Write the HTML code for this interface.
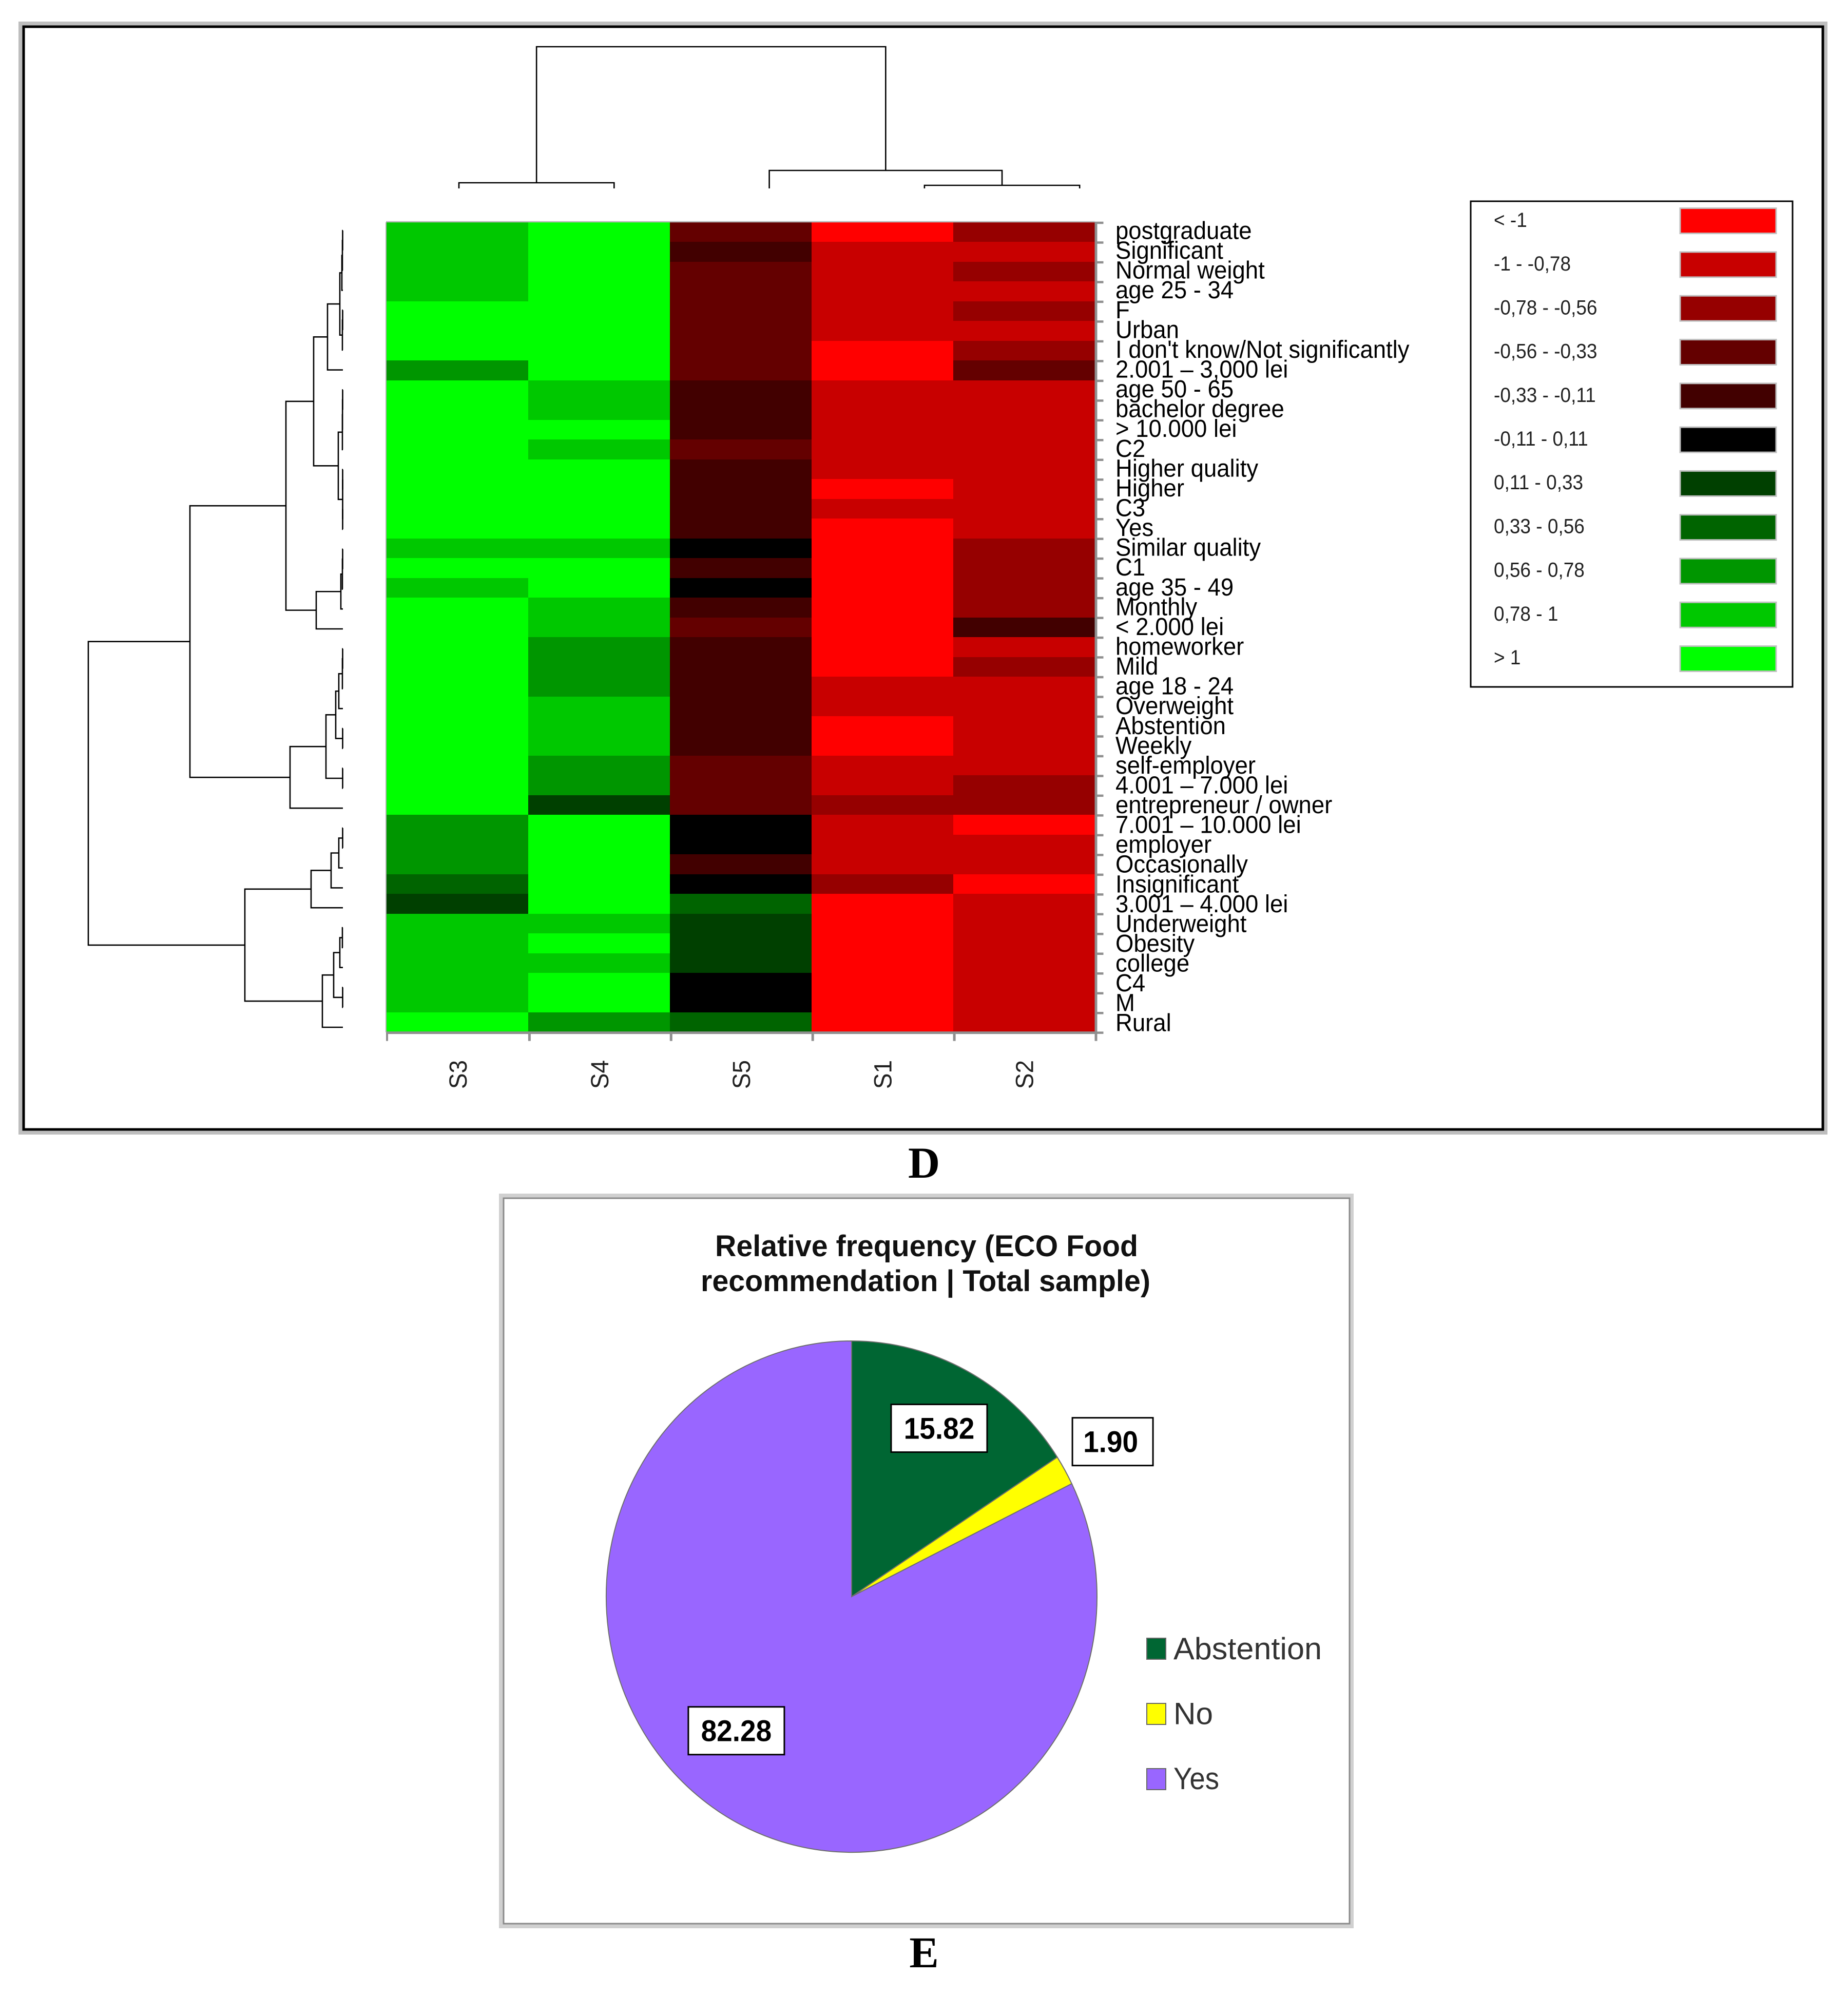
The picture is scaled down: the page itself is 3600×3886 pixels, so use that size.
<!DOCTYPE html>
<html lang="en">
<head>
<meta charset="utf-8">
<title>Heatmap and pie chart</title>
<style>
html,body{margin:0;padding:0;background:#fff;}
svg{display:block;}
text{font-family:"Liberation Sans",sans-serif;}
</style>
</head>
<body>
<svg id="fig" xmlns="http://www.w3.org/2000/svg" width="3600" height="3886" viewBox="0 0 3600 3886">
  <rect x="0" y="0" width="3600" height="3886" fill="#fff"/>
  <rect x="40" y="46" width="3516" height="2160" fill="none" stroke="#bebebe" stroke-width="8"/>
  <rect x="46" y="52" width="3505" height="2148" fill="none" stroke="#000" stroke-width="5"/>
  <g id="row-dendrogram"></g>
  <g id="col-dendrogram"></g>
  <g id="heatmap" shape-rendering="crispEdges"></g>
  <g id="heat-axes"></g>
  <g id="heat-legend">
    <rect x="2865" y="392" width="627" height="946" fill="#fff" stroke="#000" stroke-width="3"/>
  </g>
  <text x="1800" y="2294" text-anchor="middle" font-size="86" font-weight="700" style="font-family:'Liberation Serif',serif">D</text>

  <rect x="976" y="2329" width="1657" height="1423" fill="none" stroke="#d0d0d0" stroke-width="8"/>
  <rect x="981" y="2334" width="1648" height="1413" fill="#fff" stroke="#8a8a8a" stroke-width="3"/>
  <text x="1393" y="2447" font-size="58" font-weight="700" textLength="824" lengthAdjust="spacingAndGlyphs" fill="#111">Relative frequency (ECO Food</text>
  <text x="1365" y="2515" font-size="58" font-weight="700" textLength="876" lengthAdjust="spacingAndGlyphs" fill="#111">recommendation | Total sample)</text>
  <g id="pie"></g>
  <g id="pie-legend"></g>
  <text x="1800" y="3832" text-anchor="middle" font-size="86" font-weight="700" style="font-family:'Liberation Serif',serif">E</text>
</svg>
<script>
const rowLabels = ["postgraduate","Significant","Normal weight","age 25 - 34","F","Urban","I don't know/Not significantly","2.001 – 3,000 lei","age 50 - 65","bachelor degree","> 10.000 lei","C2","Higher quality","Higher","C3","Yes","Similar quality","C1","age 35 - 49","Monthly","< 2.000 lei","homeworker","Mild","age 18 - 24","Overweight","Abstention","Weekly","self-employer","4.001 – 7.000 lei","entrepreneur / owner","7.001 – 10.000 lei","employer","Occasionally","Insignificant","3.001 – 4.000 lei","Underweight","Obesity","college","C4","M","Rural"];
const columnLabels = ["S3","S4","S5","S1","S2"];
const valuesS3 = [.89,.89,.89,.89,1.2,1.2,1.2,.67,1.2,1.2,1.2,1.2,1.2,1.2,1.2,1.2,.89,1.2,.89,1.2,1.2,1.2,1.2,1.2,1.2,1.2,1.2,1.2,1.2,1.2,.67,.67,.67,.44,.22,.89,.89,.89,.89,.89,1.2];
const valuesS4 = [1.2,1.2,1.2,1.2,1.2,1.2,1.2,1.2,.89,.89,1.2,.89,1.2,1.2,1.2,1.2,.89,1.2,1.2,.89,.89,.67,.67,.67,.89,.89,.89,.67,.67,.22,1.2,1.2,1.2,1.2,1.2,.89,1.2,.89,1.2,1.2,.67];
const valuesS5 = [-.44,-.22,-.44,-.44,-.44,-.44,-.44,-.44,-.22,-.22,-.22,-.44,-.22,-.22,-.22,-.22,0,-.22,0,-.22,-.44,-.22,-.22,-.22,-.22,-.22,-.22,-.44,-.44,-.44,0,0,-.22,0,.44,.22,.22,.22,0,0,.44];
const valuesS1 = [-1.2,-.89,-.89,-.89,-.89,-.89,-1.2,-1.2,-.89,-.89,-.89,-.89,-.89,-1.2,-.89,-1.2,-1.2,-1.2,-1.2,-1.2,-1.2,-1.2,-1.2,-.89,-.89,-1.2,-1.2,-.89,-.89,-.67,-.89,-.89,-.89,-.67,-1.2,-1.2,-1.2,-1.2,-1.2,-1.2,-1.2];
const valuesS2 = [-.67,-.89,-.67,-.89,-.67,-.89,-.67,-.44,-.89,-.89,-.89,-.89,-.89,-.89,-.89,-.89,-.67,-.67,-.67,-.67,-.22,-.89,-.67,-.89,-.89,-.89,-.89,-.89,-.67,-.67,-1.2,-.89,-.89,-1.2,-.89,-.89,-.89,-.89,-.89,-.89,-.89];
const binLabels = ["< -1","-1 - -0,78","-0,78 - -0,56","-0,56 - -0,33","-0,33 - -0,11","-0,11 - 0,11","0,11 - 0,33","0,33 - 0,56","0,56 - 0,78","0,78 - 1","> 1"];
const binUpperBounds = [-1,-.78,-.56,-.33,-.11,.11,.33,.56,.78,1,Infinity];
const binColors = ["#ff0000","#c80000","#960000","#640000","#420000","#000000","#004000","#006400","#009600","#00c800","#00ff00"];
/* Dendrogram merges: [distance, childA, childB]; a number child is a 1-based row / column index. */
const rowMerges = [4.96,
  [2.98,
    [1.11,
      [.57,
        [.30,[.06,[.02,[.01,[.005,1,2],3],4],[.01,[.005,5,6],7]],8],
        [.09,[.01,[.008,[.005,9,10],11],12],[.005,[.005,13,14],[.005,15,16]]]],
      [.52,[.04,[.01,[.005,17,18],19],20],21]],
    [1.03,[.33,[.14,[.08,[.01,[.005,22,23],24],25],[.005,26,27]],[.005,28,29]],30]],
  [1.91,
    [.62,[.23,[.08,[.005,31,32],33],34],35],
    [.40,[.18,[.06,[.01,36,37],38],[.005,39,40]],41]]];
const columnMerges = [2.76,[.11,1,2],[.35,3,[.06,4,5]]];
const pieCategories = ["Abstention","No","Yes"];
const pieValues = [15.82,1.90,82.28];
const pieColors = ["#006633","#ffff00","#9966ff"];

const NS = "http://www.w3.org/2000/svg";
function el(tag, attrs, parent){
  const n = document.createElementNS(NS, tag);
  for (const k in attrs) n.setAttribute(k, attrs[k]);
  parent.appendChild(n);
  return n;
}
const $ = id => document.getElementById(id);

/* heatmap scales */
const heatLeft = 753, heatTop = 433, colBand = 275.9, rowBand = 38.48;
const xCol = i => heatLeft + i * colBand;
const yRow = i => heatTop + i * rowBand;
const binIndex = v => binUpperBounds.findIndex(b => v < b);
const colorOf = v => binColors[binIndex(v)];

const series = [valuesS3, valuesS4, valuesS5, valuesS1, valuesS2];
series.forEach((vals, c) => {
  vals.forEach((v, r) => {
    const y0 = Math.round(yRow(r)), y1 = Math.round(yRow(r + 1));
    const x0 = Math.round(xCol(c)), x1 = Math.round(xCol(c + 1));
    const cell = el("rect", {x: x0, y: y0, width: x1 - x0, height: y1 - y0, fill: colorOf(v)}, $("heatmap"));
    
    
  });
});

/* axes */
const axisColor = "#8f8f8f";
const heatRight = xCol(columnLabels.length), heatBottom = yRow(rowLabels.length);
const topLine = el("line", {x1: heatLeft - 1, x2: heatRight, y1: heatTop - 1, y2: heatTop - 1, stroke: "#b8b8b8", "stroke-width": 2.5}, $("heat-axes"));


const leftLine = el("line", {x1: heatLeft - 1, x2: heatLeft - 1, y1: heatTop, y2: heatBottom, stroke: "#b0b0b0", "stroke-width": 2}, $("heat-axes"));


const rightAxis = el("line", {x1: heatRight + 2.5, x2: heatRight + 2.5, y1: heatTop - 1, y2: heatBottom + 3.5, stroke: axisColor, "stroke-width": 5}, $("heat-axes"));


const bottomAxis = el("line", {x1: heatLeft, x2: heatRight + 5, y1: heatBottom + 1, y2: heatBottom + 1, stroke: axisColor, "stroke-width": 5}, $("heat-axes"));



for (let r = 0; r <= rowLabels.length; r++) {
  const tick = el("line", {x1: heatRight, x2: heatRight + 17, y1: yRow(r) + 1, y2: yRow(r) + 1, stroke: axisColor, "stroke-width": 4.5}, $("heat-axes"));
  
  
}
rowLabels.forEach((label, r) => {
  const t = el("text", {x: 0, y: 0, "font-size": 45.5, fill: "#000", transform: "translate(2173," + (465.5 + r * 38.57) + ") scale(1,1.05)"}, $("heat-axes"));
  t.textContent = label;
  
  
});
for (let c = 0; c <= columnLabels.length; c++) {
  const tx = xCol(c) + (c ? 2.5 : 1);
  const tick = el("line", {x1: tx, x2: tx, y1: heatBottom, y2: heatBottom + 17, stroke: axisColor, "stroke-width": c ? 5 : 4}, $("heat-axes"));
  
  
}
columnLabels.forEach((label, c) => {
  const cx = xCol(c) + colBand / 2 + 1;
  const t = el("text", {x: 0, y: 0, "font-size": 46, fill: "#222", "text-anchor": "middle", transform: "translate(" + (cx + 17) + ",2093) rotate(-90) scale(1,1.05)"}, $("heat-axes"));
  t.textContent = label;
  
  
});

/* dendrograms */
function drawDendro(node, leafPos, heightPos, horizontal, parent, name){
  /* returns the leaf-axis position of the node */
  if (typeof node === "number") return leafPos(node);
  const a = drawDendro(node[1], leafPos, heightPos, horizontal, parent, name);
  const b = drawDendro(node[2], leafPos, heightPos, horizontal, parent, name);
  const hA = typeof node[1] === "number" ? 0 : node[1][0];
  const hB = typeof node[2] === "number" ? 0 : node[2][0];
  const h = heightPos(node[0]), pA = heightPos(hA), pB = heightPos(hB);
  const d = horizontal
    ? "M" + pA + " " + a + "H" + h + "V" + b + "H" + pB
    : "M" + a + " " + pA + "V" + h + "H" + b + "V" + pB;
  const p = el("path", {d: d, fill: "none", stroke: "#000", "stroke-width": 2.6}, parent);
  
  
  return (a + b) / 2;
}
drawDendro(rowMerges, r => 449 + (r - 1) * 38.8, h => 668 - h * 100, true, $("row-dendrogram"), "row-dendrogram-branch");
drawDendro(columnMerges, c => 894 + (c - 1) * 302.3, h => 367 - h * 100, false, $("col-dendrogram"), "column-dendrogram-branch");

/* heatmap legend */
binLabels.forEach((label, i) => {
  const y = 405.6 + i * 85.3;
  const sw = el("rect", {x: 3273, y: y, width: 187, height: 49, fill: binColors[i], stroke: "#c0c0c0", "stroke-width": 3}, $("heat-legend"));
  
  
  const t = el("text", {x: 0, y: 0, "font-size": 37, fill: "#222", transform: "translate(2910," + (442 + i * 85.2) + ") scale(1,1.08)"}, $("heat-legend"));
  t.textContent = label;
  
  
});

/* pie */
const pieCx = 1659, pieCy = 3110, pieRx = 478, pieRy = 498;
const pieTotal = pieValues.reduce((s, v) => s + v, 0);
const piePoint = (frac, k) => [pieCx + k * pieRx * Math.sin(frac * 2 * Math.PI), pieCy - k * pieRy * Math.cos(frac * 2 * Math.PI)];
const labelRadius = [.748, 1.224, .705];
const labelShift = [0, 0, .0275];
let cum = 0;
const pieRanges = pieValues.map(v => { const s = cum / pieTotal; cum += v; return [s, cum / pieTotal]; });
pieValues.forEach((v, i) => {
  const [s, e] = pieRanges[i];
  const p0 = piePoint(s, 1), p1 = piePoint(e, 1);
  const big = e - s > .5 ? 1 : 0;
  const slice = el("path", {d: "M" + pieCx + " " + pieCy + "L" + p0[0] + " " + p0[1] + "A" + pieRx + " " + pieRy + " 0 " + big + " 1 " + p1[0] + " " + p1[1] + "Z", fill: pieColors[i], stroke: "#6e6e6e", "stroke-width": 2}, $("pie"));
  
  
});
pieValues.forEach((v, i) => {
  const [s, e] = pieRanges[i];
  const c = piePoint((s + e) / 2 + labelShift[i], labelRadius[i]);
  const text = v.toFixed(2);
  const w = text.length > 4 ? 187 : 157;
  const box = el("rect", {x: c[0] - w / 2, y: c[1] - 47, width: w, height: 93, fill: "#fff", stroke: "#000", "stroke-width": 3}, $("pie"));
  
  
  const textX = c[0] - (text.length > 4 ? 0 : 4);
  const t = el("text", {x: 0, y: 0, "font-size": 55, "font-weight": 700, "text-anchor": "middle", fill: "#000", transform: "translate(" + textX + "," + (c[1] + 20) + ") scale(1,1.06)"}, $("pie"));
  t.textContent = text;
  
  
});

/* pie legend */
const pieLegendTextWidths = [289, 77, 89];
pieCategories.forEach((label, i) => {
  const y = 3191 + i * 127;
  const sw = el("rect", {x: 2234, y: y, width: 37, height: 41, fill: pieColors[i], stroke: "#666", "stroke-width": 2}, $("pie-legend"));
  
  
  const t = el("text", {x: 2286, y: 3232 + i * 126.5, "font-size": 60, fill: "#333", textLength: pieLegendTextWidths[i], lengthAdjust: "spacingAndGlyphs"}, $("pie-legend"));
  t.textContent = label;
  
  
});
</script>
</body>
</html>
